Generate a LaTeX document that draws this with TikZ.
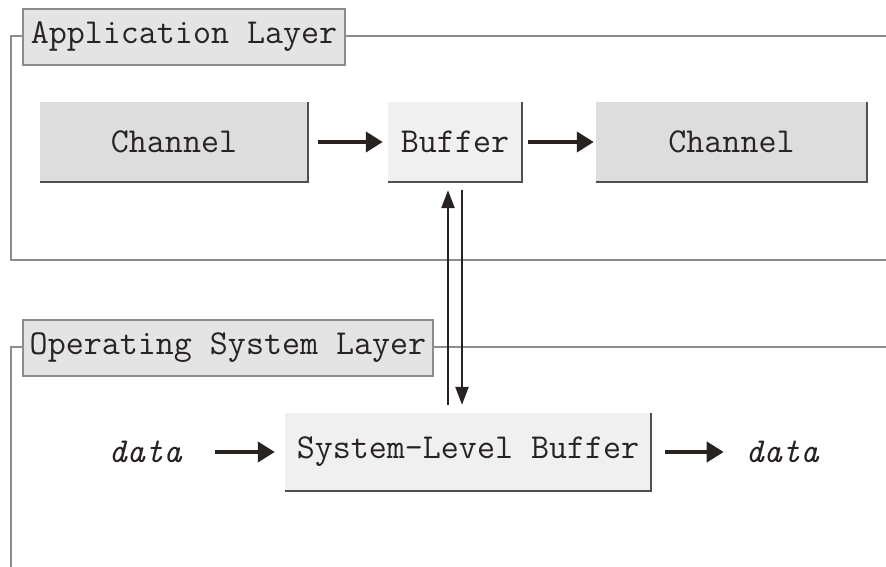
\documentclass[tikz,border=0pt]{standalone}
\usetikzlibrary{positioning,arrows.meta,calc}
\definecolor{lyGray}{RGB}{140,140,140}
\definecolor{lyDark}{RGB}{40,35,33}
\definecolor{lyFill}{RGB}{221,221,221}
\definecolor{lyPale}{RGB}{240,240,240}
\definecolor{lyTab}{RGB}{228,228,228}
\tikzset{
    base/.style={font=\ttfamily\fontsize{35}{38}\selectfont, text=lyDark, align=center},
    panel/.style={base, rectangle, fill=lyFill, inner sep=0pt},
    palepanel/.style={panel, fill=lyPale},
    tab/.style={base, rectangle, draw=lyGray, line width=2pt, fill=lyTab, inner sep=6pt,
                minimum height=56pt},
    frame/.style={draw=lyGray, line width=2pt},
    shade/.style={draw=lyDark!80, line width=2.5pt},
    flow/.style={-{Triangle[length=17pt,width=20pt]}, line width=4pt, color=lyDark},
    swap/.style={-{Triangle[length=18pt,width=13pt]}, line width=2.5pt, color=lyDark},
    word/.style={base, font=\ttfamily\itshape\fontsize{35}{38}\selectfont}
}
\begin{document}
\begin{tikzpicture}[x=1pt,y=-1pt]
  \useasboundingbox (0,0) rectangle (886,567);

  % Layer frames
  \draw[frame] (886,36) -- (11,36) -- (11,260) -- (886,260);
  \draw[frame] (886,347) -- (11,347) -- (11,567);
  \node[tab, minimum width=322pt] (appl) at (184,37) {Application Layer};
  \node[tab, minimum width=410pt] (opsl) at (228,348) {Operating System Layer};

  % Application layer
  \node[panel, minimum width=268pt, minimum height=80pt] (chin) at (174,142) {Channel};
  \node[palepanel, minimum width=134pt, minimum height=80pt] (buf) at (455,142) {Buffer};
  \node[panel, minimum width=271pt, minimum height=80pt] (chout) at (731.5,142) {Channel};

  % Operating system layer
  \node[palepanel, minimum width=366pt, minimum height=78pt] (sysbuf) at (468,452) {System-Level Buffer};
  \node[word] (din) at (145,452) {data};
  \node[word] (dout) at (782,452) {data};

  % 3D edges
  \foreach \n in {chin,buf,chout,sysbuf}
    \draw[shade] (\n.north east) -- (\n.south east) -- (\n.south west);

  % Connectors
  \draw[flow, shorten <=10pt, shorten >=5pt] (chin) -- (buf);
  \draw[flow, shorten <=6pt, shorten >=2pt] (buf) -- (chout);
  \draw[flow, shorten <=30pt, shorten >=10pt] (din) -- (sysbuf);
  \draw[flow, shorten <=14pt, shorten >=18pt] (sysbuf) -- (dout);
  \draw[swap, shorten <=8pt, shorten >=8pt]
    ([xshift=-7pt]buf.south |- sysbuf.north) -- ([xshift=-7pt]buf.south);
  \draw[swap, shorten <=8pt, shorten >=8pt]
    ([xshift=7pt]buf.south) -- ([xshift=7pt]buf.south |- sysbuf.north);
\end{tikzpicture}
\end{document}
